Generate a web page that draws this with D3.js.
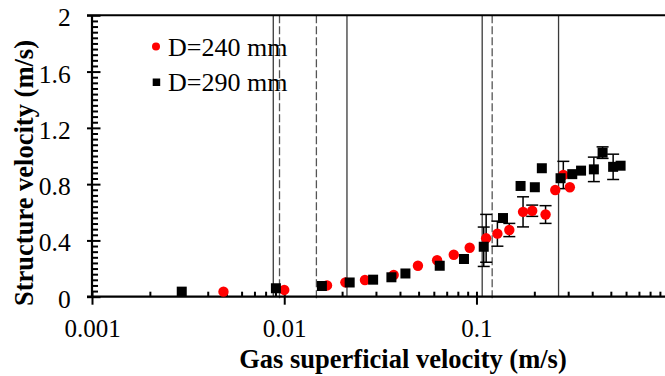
<!DOCTYPE html>
<html>
<head>
<meta charset="utf-8">
<script src="https://cdn.jsdelivr.net/npm/d3@7"></script>
<style>
  html, body { margin: 0; padding: 0; background: #fff; }
  svg { display: block; }
  text { font-family: "Liberation Serif", "Times New Roman", serif; }
</style>
</head>
<body>
<svg id="chart" width="665" height="376"></svg>
<script>
// Structure velocity vs gas superficial velocity, two column diameters
const seriesNames = ["D=240 mm", "D=290 mm"];

const ug240 = [0.00483, 0.0100, 0.0167, 0.0208, 0.0263, 0.0371, 0.0496, 0.0624, 0.0762, 0.0922,
               0.1123, 0.1285, 0.1482, 0.1747, 0.195, 0.2288, 0.257, 0.283, 0.306];
const us240 = [0.036, 0.048, 0.080, 0.102, 0.119, 0.154, 0.220, 0.259, 0.298, 0.348,
               0.415, 0.448, 0.474, 0.603, 0.611, 0.584, 0.758, 0.865, 0.778];
const err240 = [0, 0, 0, 0, 0, 0, 0, 0, 0, 0,
                0.17, 0.089, 0.047, 0.107, 0.04, 0.063, 0, 0.097, 0];

const ug290 = [0.00293, 0.00905, 0.0157, 0.0219, 0.029, 0.0361, 0.0427, 0.0644, 0.0861, 0.1091,
               0.1374, 0.1696, 0.2012, 0.2188, 0.2738, 0.315, 0.35, 0.408, 0.453, 0.514, 0.562];
const us290 = [0.036, 0.060, 0.076, 0.101, 0.121, 0.138, 0.165, 0.220, 0.268, 0.355,
               0.559, 0.787, 0.778, 0.913, 0.842, 0.871, 0.896, 0.905, 1.024, 0.923, 0.931];
const err290 = [0, 0, 0, 0, 0, 0, 0, 0, 0, 0.14,
                0, 0, 0, 0, 0, 0, 0, 0.087, 0.041, 0.09, 0];

// Regime transition velocities (solid and dashed guides)
const solidLines = [0.00877, 0.0212, 0.1071, 0.2673];
const dashedLines = [0.00945, 0.0147, 0.1207];

const xMajorTicks = [0.001, 0.01, 0.1];
const xTickLabels = ["0.001", "0.01", "0.1"];
const yMajorTicks = [0, 0.4, 0.8, 1.2, 1.6, 2];
const yTickLabels = ["0", "0.4", "0.8", "1.2", "1.6", "2"];

const xTitle = "Gas superficial velocity (m/s)";
const yTitle = "Structure velocity (m/s)";

const svg = d3.select("#chart");
const plotLeft = 92, plotRight = 668.7, plotTop = 15.3, plotBottom = 296.7;

const x = d3.scaleLog().domain([0.001, 1]).range([plotLeft, plotRight]);
const y = d3.scaleLinear().domain([0, 2]).range([plotBottom, plotTop]);

// minor ticks
const xMinor = [];
[0.001, 0.01, 0.1].forEach(d => { for (let k = 2; k <= 9; k++) xMinor.push(d * k); });
const yMinor = d3.range(0, 2.0001, 0.04).map(v => +v.toFixed(2));

// guide lines
svg.append("g").selectAll("line").data(solidLines).join("line")
  .attr("x1", d => x(d)).attr("x2", d => x(d))
  .attr("y1", y(2)).attr("y2", y(0))
  .attr("stroke", "#3a3a3a").attr("stroke-width", 1.3);
svg.append("g").selectAll("line").data(dashedLines).join("line")
  .attr("x1", d => x(d)).attr("x2", d => x(d))
  .attr("y1", y(2)).attr("y2", y(0) + 4)
  .attr("stroke", "#555").attr("stroke-width", 1.3)
  .attr("stroke-dasharray", "8,3");

// top border
svg.append("line")
  .attr("x1", plotLeft - 5).attr("x2", 665)
  .attr("y1", y(2)).attr("y2", y(2))
  .attr("stroke", "#000").attr("stroke-width", 2);

// x axis
const gx = svg.append("g").attr("transform", `translate(0,${plotBottom})`)
  .call(d3.axisBottom(x).tickValues(xMajorTicks).tickSize(8)
    .tickFormat((d, i) => xTickLabels[i]));
gx.select(".domain").attr("d", `M${plotLeft - 5},0H665`).attr("stroke-width", 2.2);
gx.selectAll(".tick line").attr("stroke-width", 2);
gx.selectAll(".tick text")
  .attr("y", 40.6).attr("dy", 0)
  .attr("font-size", 25).attr("fill", "#000")
  .style("font-family", "'Liberation Serif', serif");

const gxm = svg.append("g").attr("transform", `translate(0,${plotBottom})`)
  .call(d3.axisTop(x).tickValues(xMinor.concat(xMajorTicks)).tickSize(5).tickFormat(""));
gxm.select(".domain").remove();
gxm.selectAll(".tick line").attr("stroke-width", 2);

// y axis
const gy = svg.append("g").attr("transform", `translate(${plotLeft},0)`)
  .call(d3.axisLeft(y).tickValues(yMajorTicks).tickSize(5)
    .tickFormat((d, i) => yTickLabels[i]));
gy.select(".domain").attr("d", `M0,${plotTop}V${plotBottom}`).attr("stroke-width", 2.2);
gy.selectAll(".tick line").attr("stroke-width", 2);
gy.selectAll(".tick text")
  .attr("x", -21.3).attr("y", 1.5).attr("dy", "0.35em")
  .attr("font-size", 25.5).attr("fill", "#000")
  .style("font-family", "'Liberation Serif', serif");

const gym = svg.append("g").attr("transform", `translate(${plotLeft},0)`)
  .call(d3.axisRight(y).tickValues(yMinor).tickSize(6).tickFormat(""));
gym.select(".domain").remove();
gym.selectAll(".tick line").attr("stroke-width", 2);
gym.selectAll(".tick").filter(d => yMajorTicks.some(t => Math.abs(t - d) < 1e-6))
  .select("line").attr("x2", 8.5);

// error bars
function errorBars(ug, us, err) {
  const data = ug.map((u, i) => ({ u, v: us[i], e: err[i] })).filter(d => d.e > 0);
  const g = svg.append("g").attr("stroke", "#000").attr("stroke-width", 1.5);
  data.forEach(d => {
    const cx = x(d.u), y1 = y(d.v + d.e), y2 = y(d.v - d.e);
    g.append("line").attr("x1", cx).attr("x2", cx).attr("y1", y1).attr("y2", y2);
    g.append("line").attr("x1", cx - 6).attr("x2", cx + 6).attr("y1", y1).attr("y2", y1);
    g.append("line").attr("x1", cx - 6).attr("x2", cx + 6).attr("y1", y2).attr("y2", y2);
  });
}
errorBars(ug240, us240, err240);
errorBars(ug290, us290, err290);

// D=240 mm: red circles
svg.append("g").selectAll("circle").data(ug240.map((u, i) => [u, us240[i]])).join("circle")
  .attr("cx", d => x(d[0])).attr("cy", d => y(d[1]))
  .attr("r", 5.2).attr("fill", "#ff0000");

// D=290 mm: black squares
const sq = 10;
svg.append("g").selectAll("rect").data(ug290.map((u, i) => [u, us290[i]])).join("rect")
  .attr("x", d => x(d[0]) - sq / 2).attr("y", d => y(d[1]) - sq / 2)
  .attr("width", sq).attr("height", sq).attr("fill", "#000");

// legend
const lg = svg.append("g");
lg.append("circle").attr("cx", 156).attr("cy", 46.5).attr("r", 4).attr("fill", "#ff0000");
lg.append("text").attr("x", 168).attr("y", 56).attr("font-size", 26).text(seriesNames[0]);
lg.append("rect").attr("x", 152.7).attr("y", 78.5).attr("width", 7.5).attr("height", 7.5).attr("fill", "#000");
lg.append("text").attr("x", 168).attr("y", 90.5).attr("font-size", 26).text(seriesNames[1]);

// axis titles
svg.append("text")
  .attr("x", 403).attr("y", 368).attr("text-anchor", "middle")
  .attr("font-size", 26.5).attr("font-weight", "bold").text(xTitle);
svg.append("text")
  .attr("transform", "translate(33,173) rotate(-90)")
  .attr("text-anchor", "middle")
  .attr("font-size", 26.5).attr("font-weight", "bold").text(yTitle);
</script>
</body>
</html>
